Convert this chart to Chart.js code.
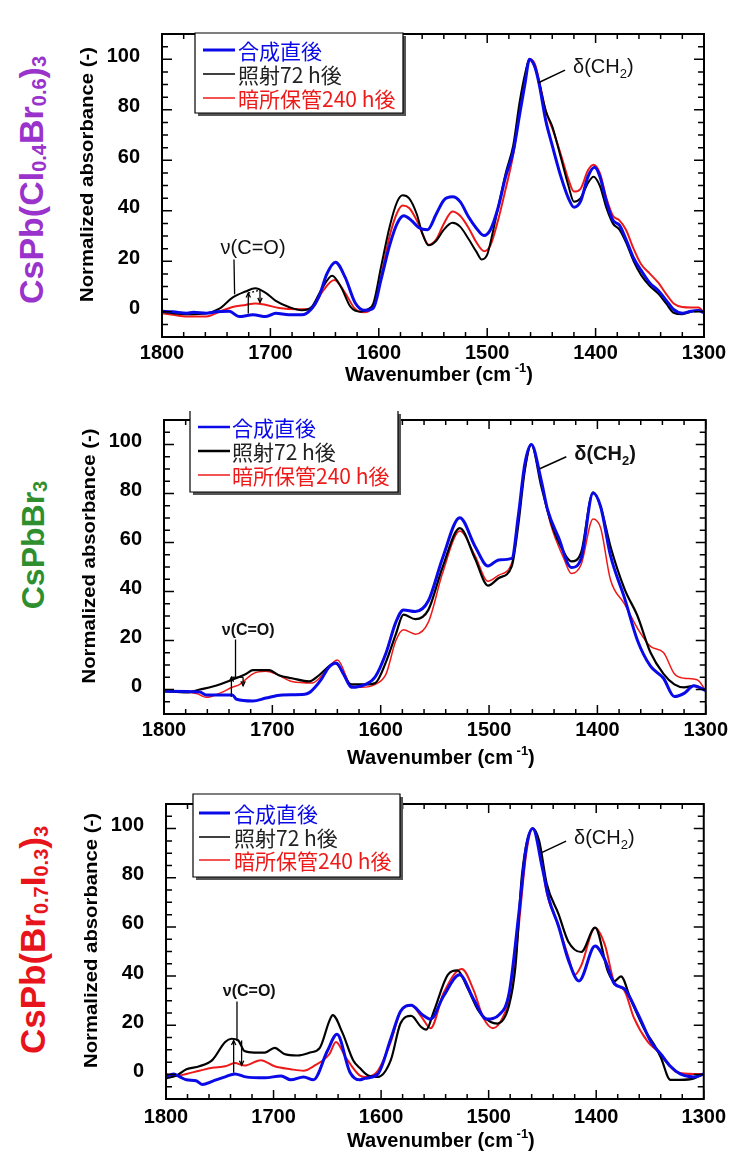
<!DOCTYPE html>
<html><head><meta charset="utf-8">
<script src="https://cdn.jsdelivr.net/npm/chart.js@4.4.0/dist/chart.umd.min.js"></script>
<style>
html,body{margin:0;padding:0;background:#fff;}
body{width:732px;height:1151px;position:relative;overflow:hidden;font-family:"Liberation Sans",Arial,sans-serif;}
canvas.pane{position:absolute;left:0;}
.cname{position:absolute;transform:translate(-50%,-50%) rotate(-90deg);white-space:nowrap;font-weight:bold;line-height:1;}
.cname sub{font-size:20px;vertical-align:-3px;line-height:0;}
</style></head><body>
<div class="cname" style="left:31px;top:180px;color:#9933cc;font-size:34px">CsPb(Cl<sub>0.4</sub>Br<sub>0.6</sub>)<sub>3</sub></div>
<div class="cname" style="left:33px;top:545px;color:#2f8f2f;font-size:32px">CsPbBr<sub>3</sub></div>
<div class="cname" style="left:32px;top:940px;color:#e8141b;font-size:35px">CsPb(Br<sub>0.7</sub>I<sub>0.3</sub>)<sub>3</sub></div>
<canvas id="c1" class="pane" width="732" height="386" style="top:0px"></canvas>
<canvas id="c2" class="pane" width="732" height="384" style="top:386px"></canvas>
<canvas id="c3" class="pane" width="732" height="381" style="top:770px"></canvas>
<script>
// ---------- data ----------
const seriesLabels = ['合成直後', '照射72 h後', '暗所保管240 h後'];
const seriesColors = ['#0a0ae8', '#000000', '#ee1a1a'];
const xTickValues = [1800, 1700, 1600, 1500, 1400, 1300];
const yTickValues = [0, 20, 40, 60, 80, 100];

// Panel 1: CsPb(Cl0.4Br0.6)3
const p1BlueWn = [1800,1790,1777,1771,1759,1750,1738,1729,1716,1704,1695,1683,1671,1662,1655,1648,1640,1631,1622,1613,1605,1598,1590,1583,1577,1570,1563,1555,1547,1540,1532,1525,1517,1510,1503,1497,1490,1483,1476,1470,1465,1461,1456,1452,1446,1440,1432,1425,1420,1414,1407,1401,1396,1390,1384,1378,1372,1365,1358,1350,1342,1335,1328,1320,1312,1305,1300];
const p1BlueAbs = [0.2,0,-0.6,-0.2,-0.6,0,0.2,-1.9,-1.2,-1.9,-0.6,-1.2,-1.2,1.2,6.2,14.9,19.6,13.6,3.7,0.6,1.5,12.6,26.3,35,38,36.2,33.3,32.5,38.7,44.2,45.5,43.6,37.4,33.1,30.2,32.5,41.1,53.5,63.4,78.3,90.7,100,96.9,90,75.8,65.9,53.5,44.9,41.4,43.6,53.5,57.2,53.5,43.6,36.2,34.3,28.7,21.3,16.4,11.4,8.3,4.6,0.9,-0.6,0.2,0.5,-0.4];
const p1BlackWn = [1800,1790,1777,1759,1747,1735,1723,1714,1704,1695,1683,1671,1662,1653,1643,1635,1626,1617,1610,1605,1598,1590,1583,1578,1572,1565,1560,1554,1547,1540,1532,1525,1517,1510,1505,1500,1495,1490,1483,1476,1470,1465,1461,1456,1452,1446,1440,1432,1425,1420,1414,1407,1402,1396,1390,1384,1378,1372,1365,1358,1350,1342,1335,1328,1320,1312,1305,1300];
const p1BlackAbs = [0,-0.6,-1,-0.6,1.2,5.6,8,9.3,7.4,4.3,1.9,0.6,1.9,8.7,14.3,9.9,1.9,0,1,3.3,17.6,33.7,43.6,46.1,44.9,38.7,31.2,26.3,28.1,32.5,35.2,33.7,28.7,23.8,20.7,22.6,31.2,41.1,54.8,65.9,83.3,94.4,100,96.9,90.7,79.6,73.4,61,49.8,43.6,44.9,51,53.5,49.8,41.1,34.9,32.5,27.5,20.1,14.5,10.2,7.1,3.3,-0.4,-1,0,0.5,0.2];
const p1RedWn = [1800,1790,1777,1759,1747,1735,1723,1714,1704,1692,1674,1662,1653,1641,1631,1622,1614,1605,1598,1590,1583,1578,1572,1565,1560,1554,1547,1540,1532,1525,1517,1510,1503,1497,1490,1483,1476,1470,1465,1461,1456,1452,1446,1440,1432,1425,1420,1414,1407,1402,1396,1390,1384,1378,1372,1365,1358,1350,1342,1335,1328,1320,1312,1305,1300];
const p1RedAbs = [-0.6,-1.2,-1.9,-1.9,0,1.9,2.7,3.3,2.7,1.5,1,1.2,7.4,12.6,7.4,1.2,-0.2,2.5,13.9,30,39.3,42.1,41.1,36.2,31.2,26.5,28.7,34.9,39.7,38,33.1,27.5,24,26.3,36.2,48.6,62.2,79.6,93.2,100,98.1,91.3,79.6,72.7,62.2,52.3,47.6,48.6,56,58.2,54.8,44.9,38,36.2,32.5,25,18.8,15.1,11.4,7.1,3.3,1.9,1.7,1.7,-0.4];

// Panel 2: CsPbBr3
const p2BlueWn = [1800,1767,1761,1737,1733,1718,1706,1691,1670,1665,1655,1648,1641,1634,1627,1614,1605,1595,1586,1579,1568,1556,1543,1527,1513,1501,1491,1479,1473,1467,1461,1452,1446,1436,1424,1415,1404,1397,1388,1375,1363,1351,1339,1329,1320,1311,1300];
const p2BlueAbs = [-0.7,-1,-2.2,-2.2,-4,-4.7,-3.5,-2.2,-1.9,-1,4,9,10.8,6,0.9,2.1,5.2,15,27.5,32.5,31.8,36.2,53.5,70.1,58.5,50.4,52.9,53.5,70.9,92,100,85.7,73.4,62.2,49.8,53.5,80.2,74.6,54.8,37.4,20,9.5,4.6,-2.9,-1.6,1.5,-0.4];
const p2BlackWn = [1800,1779,1767,1755,1737,1724,1718,1703,1694,1682,1666,1657,1642,1627,1614,1605,1595,1586,1579,1568,1556,1543,1527,1513,1501,1491,1479,1473,1467,1461,1452,1443,1431,1424,1415,1404,1397,1388,1375,1363,1351,1339,1329,1320,1311,1300];
const p2BlackAbs = [-0.7,-1.2,0,1.2,4,6.4,7.9,7.9,5.8,4.6,3.3,5.8,10.8,2.1,2.1,2.7,11.4,22.6,30.6,28.7,32.5,49.8,65.9,53.5,42.4,45.5,50.4,67.2,89.5,100,83.3,68.4,56,52.3,56,80.5,74.6,58.5,41.1,30,15.1,6.4,2.1,0.9,1.5,-0.4];
const p2RedWn = [1800,1770,1761,1749,1737,1730,1718,1706,1697,1682,1663,1654,1640,1627,1618,1605,1595,1586,1579,1568,1556,1543,1527,1513,1501,1491,1479,1473,1467,1461,1452,1443,1431,1424,1415,1404,1397,1388,1375,1363,1351,1339,1329,1320,1308,1300];
const p2RedAbs = [-0.7,-1.6,-3.2,-1.6,0.9,2.1,6.4,7.4,6.4,3.3,2.7,5.8,12,1.5,0.9,2.1,6.4,20,24.4,22.6,27.5,47.3,64.7,54.8,44.2,46.7,51.7,69.6,89.5,100,84.5,67.2,53.5,47.3,51,69.6,65.9,44.9,34.9,25,17.6,15.1,6.4,4.6,4,-0.4];

// Panel 3: CsPb(Br0.7I0.3)3
const p3BlueWn = [1800,1793,1787,1781,1772,1766,1757,1745,1736,1726,1708,1693,1684,1672,1663,1650,1641,1629,1620,1615,1603,1591,1582,1572,1562,1554,1542,1527,1514,1502,1490,1481,1472,1465,1459,1450,1444,1435,1426,1416,1401,1392,1383,1374,1361,1349,1340,1331,1322,1309,1300];
const p3BlueAbs = [-1,0.2,-1,-2.2,-2.6,-4.1,-2.8,-1,0.2,-1,-1.4,-0.6,-2.2,-1,-2.2,9.5,16.3,0.9,-2.2,-1.6,0.2,14.5,25.6,28.1,24.4,22.5,31.8,40.5,30.6,22.5,24.4,33,65.2,92.5,100,83.8,71.4,60.3,46.7,38,52.2,46.7,36.8,34.9,24.4,13.2,8.3,3.3,0.2,-1,0.2];
const p3BlackWn = [1800,1790,1781,1769,1757,1745,1739,1733,1727,1718,1708,1699,1690,1678,1666,1657,1648,1645,1636,1626,1620,1612,1603,1591,1582,1572,1563,1558,1551,1538,1529,1520,1509,1498,1492,1481,1475,1469,1459,1453,1446,1435,1426,1414,1401,1389,1383,1377,1368,1355,1346,1340,1331,1322,1309,1300];
const p3BlackAbs = [-1.6,-0.4,2.1,3.3,5.8,13.2,14.5,13.9,9.5,8.9,8.9,10.8,8.3,7.7,8.9,10.8,21.9,24.1,17,5.8,2.7,-0.5,-1,5.8,20.7,23.8,19.4,18.2,25.6,40.5,42.3,35.5,25.6,21.3,20.7,28.1,44.2,81.3,100,94.9,77.6,65.2,54.1,49.8,59.7,41.7,38,39.9,30.6,18.2,12,7,-2.2,-2.2,-1.6,0.2];
const p3RedWn = [1800,1790,1781,1769,1757,1745,1736,1727,1712,1699,1684,1672,1663,1648,1642,1633,1620,1615,1603,1591,1582,1572,1562,1554,1542,1525,1514,1505,1496,1487,1478,1472,1465,1459,1453,1446,1435,1426,1420,1414,1401,1392,1383,1374,1365,1352,1343,1334,1325,1309,1300];
const p3RedAbs = [0.2,-0.6,0.2,1.5,2.7,3.3,4.6,3.6,5.8,3.3,2.1,1.5,3.3,8.3,13.2,7,-0.4,-1,1.5,13.2,25.6,28.1,23.1,18.8,33,42.9,34.3,23.1,18.8,23.1,35.5,60.3,90,100,92.5,73.9,60.3,47.9,40.5,44.2,59.7,52.8,37.4,34.3,23.1,13.2,9.5,4.6,0.9,0.2,0.2];

// ---------- layout / styling ----------
const FONT = '"Liberation Sans", Arial, sans-serif';
const CJK = '"Noto Sans CJK JP", "Noto Sans", sans-serif';

const panels = [
  { canvas: 'c1', top: 0, height: 386, area: { left: 162, right: 704, top: 14, bottom: 337 },
    series: [[p1BlueWn, p1BlueAbs], [p1BlackWn, p1BlackAbs], [p1RedWn, p1RedAbs]],
    widths: [3, 2, 2], xTickPad: 4, xTitleDy: 37,
    legend: { x: 195, y: 33, w: 208, h: 80, rows: [17, 41, 65], lineX: 8, lineLen: 32, textX: 43, noTop: false, lw: [3, 1.5, 1.5] },
    nu: { at: [1716, 25.1], font: 'normal 20px ' + FONT,
          lines: [[1733.6, 20.7, 1733, 6.9]], arrows: [[1720.4, -0.7, 1720.4, 7.4], [1709.6, 8.6, 1709.6, 3.7]], dotted: [[1720.4, 7.4, 1709.6, 8.6]] },
    delta: { at: [1420.8, 97.4], weight: 'normal', line: [1428.2, 95.7, 1452.8, 90.7] } },
  { canvas: 'c2', top: 386, height: 384, area: { left: 164, right: 708, top: 392, bottom: 714 },
    series: [[p2BlueWn, p2BlueAbs], [p2BlackWn, p2BlackAbs], [p2RedWn, p2RedAbs]],
    widths: [3, 2.2, 1.5], xTickPad: 4, xTitleDy: 43,
    legend: { x: 190, y: 411, w: 208, h: 81, rows: [16, 40, 64], lineX: 8, lineLen: 32, textX: 42, noTop: true, lw: [2.5, 2.5, 1.5] },
    nu: { at: [1722.3, 24.2], font: 'bold 16px ' + FONT,
          lines: [[1734, 20.4, 1734, 5], [1737.8, 5, 1727, 5]], arrows: [[1737.8, -3, 1737.8, 5], [1727, 5, 1727, 1.5]], dotted: [] },
    delta: { at: [1421.3, 96.7], weight: 'bold', line: [1428.7, 95, 1453.2, 90.1] } },
  { canvas: 'c3', top: 770, height: 381, area: { left: 166, right: 709, top: 776, bottom: 1099 },
    series: [[p3BlueWn, p3BlueAbs], [p3BlackWn, p3BlackAbs], [p3RedWn, p3RedAbs]],
    widths: [3, 2.2, 2], xTickPad: 6, xTitleDy: 41,
    legend: { x: 193, y: 794, w: 207, h: 83, rows: [19, 43, 66], lineX: 6, lineLen: 31, textX: 41, noTop: false, lw: [3, 1.5, 1.5] },
    nu: { at: [1722.6, 33.5], font: 'bold 16px ' + FONT,
          lines: [[1734, 29.7, 1734, 13.8]], arrows: [[1737.1, 0.7, 1737.1, 13.8], [1729.7, 13.8, 1729.7, 3.7]], dotted: [] },
    delta: { at: [1420.6, 96.7], weight: 'normal', line: [1428, 94.9, 1451.7, 90] } }
];

function drawRich(ctx, parts, x, cy, align) {
  let w = 0;
  for (const p of parts) { ctx.font = p.font; w += ctx.measureText(p.t).width; }
  let cx = align === 'center' ? x - w / 2 : x;
  ctx.textAlign = 'left';
  ctx.textBaseline = 'alphabetic';
  const base = cy + 7;
  for (const p of parts) {
    ctx.font = p.font;
    ctx.fillText(p.t, cx, base + (p.dy || 0));
    cx += ctx.measureText(p.t).width;
  }
}

function arrowLine(ctx, x1, y1, x2, y2) {
  ctx.beginPath(); ctx.moveTo(x1, y1); ctx.lineTo(x2, y2); ctx.stroke();
  const ang = Math.atan2(y2 - y1, x2 - x1), hl = 5;
  ctx.beginPath();
  ctx.moveTo(x2 - hl * Math.cos(ang - 0.45), y2 - hl * Math.sin(ang - 0.45));
  ctx.lineTo(x2, y2);
  ctx.lineTo(x2 - hl * Math.cos(ang + 0.45), y2 - hl * Math.sin(ang + 0.45));
  ctx.stroke();
}

function makeDeco(p) {
  return {
    id: 'deco_' + p.canvas,
    afterDatasetsDraw(chart) {
      const ctx = chart.ctx, a = chart.chartArea, xs = chart.scales.x, ys = chart.scales.y;
      const X = v => xs.getPixelForValue(v), Y = v => ys.getPixelForValue(v);
      ctx.save();
      // ticks (inward, all four sides)
      ctx.strokeStyle = '#000'; ctx.lineWidth = 1.5;
      ctx.beginPath();
      for (let w = xs.min; w <= xs.max; w += 20) {
        const px = X(w), L = (w % 100 === 0) ? 9 : 5;
        ctx.moveTo(px, a.bottom); ctx.lineTo(px, a.bottom - L);
        ctx.moveTo(px, a.top); ctx.lineTo(px, a.top + L);
      }
      for (let v = Math.ceil(ys.min / 5) * 5; v <= ys.max; v += 5) {
        const py = Y(v), L = (v % 20 === 0) ? 10 : 6;
        ctx.moveTo(a.left, py); ctx.lineTo(a.left + L, py);
        ctx.moveTo(a.right, py); ctx.lineTo(a.right - L, py);
      }
      ctx.stroke();
      ctx.lineWidth = 2;
      ctx.strokeRect(a.left, a.top, a.right - a.left, a.bottom - a.top);

      // legend
      const L = p.legend, oy = p.top;
      const lx = L.x, ly = L.y - oy;
      ctx.fillStyle = '#555'; ctx.fillRect(lx + 3, ly + 3, L.w, L.h);
      ctx.fillStyle = '#fff'; ctx.fillRect(lx, ly, L.w, L.h);
      ctx.strokeStyle = '#000'; ctx.lineWidth = 1.2;
      ctx.beginPath();
      if (L.noTop) { ctx.moveTo(lx, ly); ctx.lineTo(lx, ly + L.h); ctx.lineTo(lx + L.w, ly + L.h); ctx.lineTo(lx + L.w, ly); }
      else { ctx.rect(lx, ly, L.w, L.h); }
      ctx.stroke();
      for (let i = 0; i < seriesLabels.length; i++) {
        const ry = ly + L.rows[i];
        ctx.strokeStyle = seriesColors[i]; ctx.lineWidth = L.lw[i];
        ctx.beginPath(); ctx.moveTo(lx + L.lineX, ry); ctx.lineTo(lx + L.lineX + L.lineLen, ry); ctx.stroke();
        ctx.fillStyle = i === 1 ? '#222' : seriesColors[i];
        ctx.font = '21px ' + CJK; ctx.textAlign = 'left'; ctx.textBaseline = 'middle';
        ctx.fillText(seriesLabels[i], lx + L.textX, ry + 1);
      }

      // annotations
      ctx.strokeStyle = '#000'; ctx.fillStyle = '#111'; ctx.lineWidth = 1.3;
      const n = p.nu;
      ctx.font = n.font; ctx.textAlign = 'center'; ctx.textBaseline = 'middle';
      ctx.fillText('ν(C=O)', X(n.at[0]), Y(n.at[1]));
      for (const s of n.lines) { ctx.beginPath(); ctx.moveTo(X(s[0]), Y(s[1])); ctx.lineTo(X(s[2]), Y(s[3])); ctx.stroke(); }
      for (const s of n.arrows) arrowLine(ctx, X(s[0]), Y(s[1]), X(s[2]), Y(s[3]));
      ctx.setLineDash([2, 2]);
      for (const s of n.dotted) { ctx.beginPath(); ctx.moveTo(X(s[0]), Y(s[1])); ctx.lineTo(X(s[2]), Y(s[3])); ctx.stroke(); }
      ctx.setLineDash([]);
      const d = p.delta;
      ctx.lineWidth = 1.5;
      ctx.beginPath(); ctx.moveTo(X(d.line[0]), Y(d.line[1])); ctx.lineTo(X(d.line[2]), Y(d.line[3])); ctx.stroke();
      ctx.fillStyle = '#111';
      drawRich(ctx, [
        { t: 'δ(CH', font: d.weight + ' 20px ' + FONT },
        { t: '2', font: d.weight + ' 13px ' + FONT, dy: 5 },
        { t: ')', font: d.weight + ' 20px ' + FONT }
      ], X(d.at[0]), Y(d.at[1]), 'left');

      // x-axis title
      ctx.fillStyle = '#000';
      drawRich(ctx, [
        { t: 'Wavenumber (cm', font: 'bold 20px ' + FONT },
        { t: ' -1', font: 'bold 13px ' + FONT, dy: -9 },
        { t: ')', font: 'bold 20px ' + FONT }
      ], (a.left + a.right) / 2 + 6, a.bottom + p.xTitleDy, 'center');

      // y-axis title (fitted length)
      const yt = 'Normalized absorbance (-)';
      ctx.font = 'bold 18px ' + FONT;
      const tw = ctx.measureText(yt).width;
      ctx.translate(a.left - 74, (a.top + a.bottom) / 2 - 11);
      ctx.rotate(-Math.PI / 2);
      ctx.scale(255 / tw, 1);
      ctx.textAlign = 'center'; ctx.textBaseline = 'middle';
      ctx.fillText(yt, 0, 0);
      ctx.restore();
    }
  };
}

for (const p of panels) {
  const datasets = p.series.map((s, i) => {
    const [wn, ab] = s;
    const n = Math.min(wn.length, ab.length);
    const pts = [];
    for (let k = 0; k < n; k++) pts.push({ x: wn[k], y: ab[k] });
    return {
      label: seriesLabels[i], data: pts, showLine: true, borderColor: seriesColors[i],
      backgroundColor: seriesColors[i], borderWidth: p.widths[i], pointRadius: 0,
      cubicInterpolationMode: 'monotone', fill: false
    };
  });
  new Chart(document.getElementById(p.canvas), {
    type: 'scatter',
    data: { datasets },
    options: {
      responsive: false, animation: false, devicePixelRatio: 1,
      layout: { padding: { top: p.area.top - p.top, right: 732 - p.area.right, left: 0, bottom: 0 } },
      plugins: { legend: { display: false }, tooltip: { enabled: false } },
      scales: {
        x: {
          type: 'linear', reverse: true, min: 1300, max: 1800,
          grid: { display: false, drawTicks: false }, border: { display: false },
          afterBuildTicks: s => { s.ticks = xTickValues.map(v => ({ value: v })); },
          afterFit: s => { s.height = p.height - (p.area.bottom - p.top); },
          ticks: { font: { family: FONT, size: 20, weight: 'bold' }, color: '#000', padding: p.xTickPad, maxRotation: 0, autoSkip: false, callback: v => String(v) }
        },
        y: {
          type: 'linear', min: -10, max: 110,
          grid: { display: false, drawTicks: false }, border: { display: false },
          afterBuildTicks: s => { s.ticks = yTickValues.map(v => ({ value: v })); },
          afterFit: s => { s.width = p.area.left; },
          ticks: { font: { family: FONT, size: 20, weight: 'bold' }, color: '#000', padding: 22, labelOffset: -3, autoSkip: false, callback: v => String(v) }
        }
      }
    },
    plugins: [makeDeco(p)]
  });
}
</script>
</body></html>
